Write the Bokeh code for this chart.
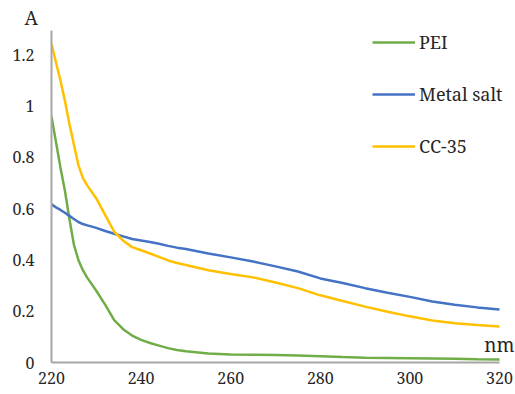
from bokeh.plotting import figure
from bokeh.models import Legend, LegendItem, Label, FixedTicker, Range1d
from bokeh.embed import file_html
from bokeh.resources import INLINE

# Absorbance spectra (wavelength in nm)
wavelength = [220, 221, 222, 223, 224, 225, 226, 227, 228, 230, 232, 234, 236, 238,
              240, 242, 244, 246, 248, 250, 255, 260, 265, 270, 275, 280, 285, 290,
              295, 300, 305, 310, 315, 320]

pei = [0.96, 0.86, 0.76, 0.67, 0.56, 0.46, 0.40, 0.36, 0.33, 0.28, 0.225, 0.165,
       0.13, 0.105, 0.088, 0.076, 0.066, 0.056, 0.049, 0.044, 0.035, 0.031, 0.030,
       0.029, 0.027, 0.024, 0.021, 0.019, 0.018, 0.017, 0.016, 0.015, 0.013, 0.012]

metal_salt = [0.617, 0.605, 0.595, 0.584, 0.572, 0.56, 0.548, 0.54, 0.535, 0.525,
              0.513, 0.502, 0.492, 0.482, 0.476, 0.47, 0.463, 0.455, 0.448, 0.443,
              0.425, 0.41, 0.394, 0.375, 0.355, 0.328, 0.31, 0.29, 0.272, 0.256,
              0.238, 0.225, 0.215, 0.207]

cc35 = [1.244, 1.17, 1.10, 1.02, 0.93, 0.85, 0.77, 0.72, 0.69, 0.64, 0.575, 0.51,
        0.475, 0.45, 0.438, 0.425, 0.412, 0.398, 0.388, 0.38, 0.36, 0.345, 0.332,
        0.312, 0.29, 0.262, 0.24, 0.218, 0.198, 0.18, 0.164, 0.153, 0.146, 0.14]

series_names = ["PEI", "Metal salt", "CC-35"]
series_colors = ["#70AD47", "#4472C4", "#FFC000"]

x_ticks = [220, 240, 260, 280, 300, 320]
y_ticks = [0, 0.2, 0.4, 0.6, 0.8, 1.0, 1.2]
y_tick_labels = ["0", "0.2", "0.4", "0.6", "0.8", "1", "1.2"]

FONT = "Noto Serif"
TEXT = "#262626"
AXIS_GREY = "#A6A6A6"

# The frame runs to the right edge so the legend and the "nm" unit fit inside it;
# the axis bounds keep the x axis line between 220 and 320.
p = figure(width=515, height=394, output_backend="svg", toolbar_location=None,
           min_border_left=51, min_border_right=0, min_border_top=30,
           min_border_bottom=32,
           x_range=Range1d(220, 323.57), y_range=Range1d(0, 1.295))
p.outline_line_color = None
p.xgrid.visible = False
p.ygrid.visible = False

renderers = []
for ys, color in zip([pei, metal_salt, cc35], series_colors):
    r = p.line(wavelength, ys, line_color=color, line_width=2.5)
    renderers.append(r)

for ax in (p.xaxis[0], p.yaxis[0]):
    ax.axis_line_color = AXIS_GREY
    ax.axis_line_width = 2
    ax.major_tick_in = 0
    ax.major_tick_out = 0
    ax.minor_tick_in = 0
    ax.minor_tick_out = 0
    ax.major_label_text_font = FONT
    ax.major_label_text_font_size = "16px"
    ax.major_label_text_color = TEXT

p.xaxis.bounds = (220, 320)
p.xaxis.ticker = FixedTicker(ticks=x_ticks)
p.yaxis.ticker = FixedTicker(ticks=y_ticks)
p.yaxis.major_label_overrides = {t: s for t, s in zip(y_ticks, y_tick_labels)}
p.xaxis.major_label_standoff = 9
p.yaxis.major_label_standoff = 17

# y-axis unit above the axis
p.title.text = "A"
p.title.align = "left"
p.title.offset = -27
p.title.standoff = 0
p.title.text_font = FONT
p.title.text_font_size = "19px"
p.title.text_font_style = "normal"
p.title.text_color = TEXT

legend = Legend(
    items=[LegendItem(label=n, renderers=[r]) for n, r in zip(series_names, renderers)],
    location=(321, 204),
    orientation="vertical",
    glyph_width=43, glyph_height=20, label_height=20,
    spacing=28, label_standoff=4, padding=0, margin=0,
    border_line_color=None, background_fill_alpha=0,
    label_text_font=FONT, label_text_font_size="18px", label_text_color=TEXT,
)
p.add_layout(legend)

# x-axis unit at the right end of the axis
p.add_layout(Label(x=463, y=18, x_units="screen", y_units="screen", text="nm",
                   text_align="right", text_baseline="alphabetic",
                   text_font=FONT, text_font_size="19px", text_color=TEXT))

open("out.html", "w").write(file_html(p, INLINE))
